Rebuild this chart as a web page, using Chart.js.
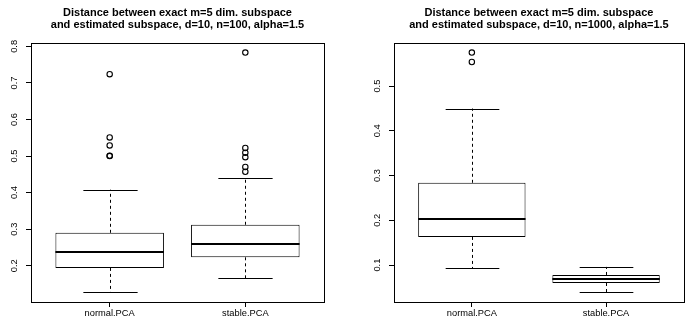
<!DOCTYPE html>
<html>
<head>
<meta charset="utf-8">
<script src="https://cdn.jsdelivr.net/npm/chart.js@4.4.1/dist/chart.umd.min.js"></script>
<style>
    html, body { margin: 0; padding: 0; background: #fff; overflow: hidden; width: 686px; height: 324px; }
    .panel { position: absolute; top: 0; height: 324px; }
    #left { left: 0; width: 343px; }
    #right { left: 343px; width: 346px; }
</style>
</head>
<body>
<div class="panel" id="left"><canvas id="leftChart"></canvas></div>
<div class="panel" id="right"><canvas id="rightChart"></canvas></div>
<script>
const groups = ['normal.PCA', 'stable.PCA'];

// n = 100
const leftTitle = ['Distance between exact m=5 dim. subspace', 'and estimated subspace, d=10, n=100, alpha=1.5'];
const leftLower = [0.127, 0.166];
const leftQ1 = [0.194, 0.223];
const leftMedian = [0.237, 0.260];
const leftQ3 = [0.290, 0.312];
const leftUpper = [0.408, 0.440];
const leftOutliers = [[0.500, 0.501, 0.529, 0.551, 0.724], [0.457, 0.470, 0.497, 0.509, 0.522, 0.783]];
const leftTicks = [0.2, 0.3, 0.4, 0.5, 0.6, 0.7, 0.8];

// n = 1000
const rightTitle = ['Distance between exact m=5 dim. subspace', 'and estimated subspace, d=10, n=1000, alpha=1.5'];
const rightLower = [0.093, 0.039];
const rightQ1 = [0.163, 0.060];
const rightMedian = [0.204, 0.069];
const rightQ3 = [0.284, 0.078];
const rightUpper = [0.450, 0.096];
const rightOutliers = [[0.554, 0.575], []];
const rightTicks = [0.1, 0.2, 0.3, 0.4, 0.5];

const tickFont = { family: 'Liberation Sans', size: 9.3 };

// whiskers, caps, medians, frame and title (R boxplot look)
const boxExtras = {
    id: 'boxExtras',
    afterDatasetsDraw(chart, args, opts) {
        const ctx = chart.ctx;
        const xs = chart.scales.x, ys = chart.scales.y;
        const bars = chart.getDatasetMeta(0).data;
        ctx.save();
        ctx.strokeStyle = '#000';
        opts.median.forEach((m, i) => {
            const xc = Math.round(xs.getPixelForValue(i + 1)) + 0.5;
            const half = bars[i].width / 2;
            const yLo = ys.getPixelForValue(opts.lower[i]);
            const yQ1 = ys.getPixelForValue(opts.q1[i]);
            const yQ3 = ys.getPixelForValue(opts.q3[i]);
            const yHi = ys.getPixelForValue(opts.upper[i]);
            // dashed whiskers
            ctx.lineWidth = 1;
            ctx.setLineDash([3, 3]);
            ctx.beginPath();
            ctx.moveTo(xc, yQ3); ctx.lineTo(xc, yHi);
            ctx.moveTo(xc, yQ1); ctx.lineTo(xc, yLo);
            ctx.stroke();
            ctx.setLineDash([]);
            // caps
            ctx.beginPath();
            ctx.moveTo(xc - half / 2, Math.round(yHi) + 0.5); ctx.lineTo(xc + half / 2, Math.round(yHi) + 0.5);
            ctx.moveTo(xc - half / 2, Math.round(yLo) + 0.5); ctx.lineTo(xc + half / 2, Math.round(yLo) + 0.5);
            ctx.stroke();
            // median
            ctx.lineWidth = 2;
            ctx.beginPath();
            const ym = Math.round(ys.getPixelForValue(m));
            ctx.moveTo(bars[i].x - half, ym); ctx.lineTo(bars[i].x + half, ym);
            ctx.stroke();
        });
        // frame
        const a = chart.chartArea;
        ctx.lineWidth = 1;
        ctx.strokeRect(Math.round(a.left) + 0.5, Math.round(a.top) + 0.5, Math.round(a.right - a.left), Math.round(a.bottom - a.top));
        // title, centred over the plot region
        ctx.fillStyle = '#000';
        ctx.font = 'bold 11px "Liberation Sans"';
        ctx.textAlign = 'center';
        ctx.textBaseline = 'alphabetic';
        const cx = (a.left + a.right) / 2;
        ctx.fillText(opts.title[0], cx, 15.5);
        ctx.fillText(opts.title[1], cx, 28);
        ctx.restore();
    }
};

function makeChart(id, d) {
    const all = [].concat(d.lower, d.upper, ...d.outliers);
    const lo = Math.min(...all), hi = Math.max(...all);
    const pad = (hi - lo) * 0.04;
    const outlierPoints = [];
    d.outliers.forEach((list, i) => list.forEach(v => outlierPoints.push({ x: i + 1, y: v })));

    return new Chart(document.getElementById(id), {
        type: 'bar',
        data: {
            datasets: [{
                data: groups.map((g, i) => ({ x: i + 1, y: [d.q1[i], d.q3[i]] })),
                backgroundColor: '#fff',
                borderColor: '#000',
                borderWidth: 1,
                borderSkipped: false,
                barPercentage: 0.8,
                categoryPercentage: 1.0
            }, {
                type: 'scatter',
                data: outlierPoints,
                pointStyle: 'circle',
                pointRadius: 2.7,
                pointBorderWidth: 1.1,
                pointBorderColor: '#000',
                pointBackgroundColor: 'rgba(0,0,0,0)'
            }]
        },
        options: {
            responsive: true,
            maintainAspectRatio: false,
            animation: false,
            layout: { padding: { top: 43, right: d.padRight, left: 0, bottom: 0 } },
            plugins: {
                legend: { display: false },
                tooltip: { enabled: false },
                boxExtras: {
                    title: d.title, lower: d.lower, q1: d.q1, median: d.median, q3: d.q3, upper: d.upper
                }
            },
            scales: {
                x: {
                    type: 'linear',
                    min: 0.42,
                    max: 2.58,
                    offset: false,
                    afterBuildTicks: s => { s.ticks = groups.map((g, i) => ({ value: i + 1 })); },
                    afterFit: s => { s.height = 22; },
                    ticks: { callback: (v, i) => groups[i], font: tickFont, color: '#000', padding: 1, maxRotation: 0, autoSkip: false },
                    grid: { offset: false, drawOnChartArea: false, drawTicks: true, tickLength: 5, tickColor: '#000' },
                    border: { display: false }
                },
                y: {
                    min: lo - pad,
                    max: hi + pad,
                    afterBuildTicks: s => { s.ticks = d.ticks.map(v => ({ value: v })); },
                    afterFit: s => { s.width = d.axisWidth; },
                    ticks: { callback: v => v.toFixed(1), font: tickFont, color: '#000', minRotation: 90, maxRotation: 90, crossAlign: 'center', padding: 5 },
                    grid: { drawOnChartArea: false, drawTicks: true, tickLength: 5, tickColor: '#000' },
                    border: { display: false }
                }
            }
        },
        plugins: [boxExtras]
    });
}

makeChart('leftChart', {
    title: leftTitle, lower: leftLower, q1: leftQ1, median: leftMedian, q3: leftQ3, upper: leftUpper,
    outliers: leftOutliers, ticks: leftTicks, axisWidth: 31, padRight: 19
});
makeChart('rightChart', {
    title: rightTitle, lower: rightLower, q1: rightQ1, median: rightMedian, q3: rightQ3, upper: rightUpper,
    outliers: rightOutliers, ticks: rightTicks, axisWidth: 51, padRight: 2
});
</script>
</body>
</html>
